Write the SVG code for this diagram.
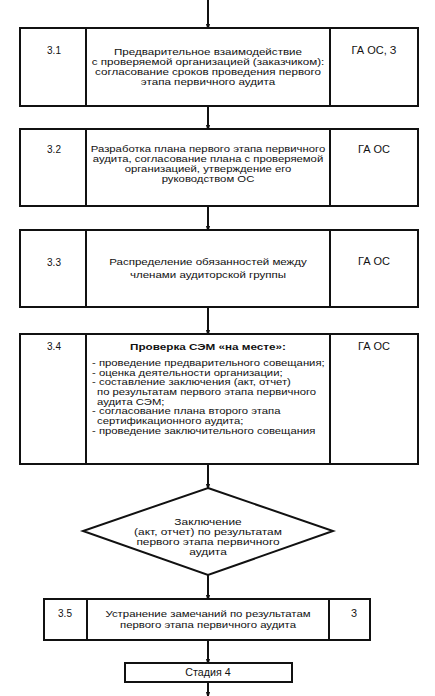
<svg xmlns="http://www.w3.org/2000/svg" width="435" height="696" viewBox="0 0 435 696">
<style>
.b{fill:#fff;stroke:#111;stroke-width:2}
.d{stroke:#111;stroke-width:2;fill:none}
text{font-family:"Liberation Sans",Arial,sans-serif;font-size:10px;fill:#111}
.s{font-size:9.6px}
.c{text-anchor:middle}
.t{font-weight:bold}
.w{stroke:#111;stroke-width:2;fill:none}
</style>
<defs>
<marker id="ah" markerWidth="7" markerHeight="11" refX="7" refY="3.5" orient="auto" markerUnits="userSpaceOnUse" viewBox="0 0 11 7">
<path d="M0,0 L11,3.5 L0,7 Z" fill="#111"/>
</marker>
</defs>
<rect width="435" height="696" fill="#fff"/>
<g id="connectors">
<line class="w" x1="208" y1="0" x2="208" y2="28" marker-end="url(#ah)"/>
<line class="w" x1="208" y1="106" x2="208" y2="129" marker-end="url(#ah)"/>
<line class="w" x1="208" y1="206" x2="208" y2="230" marker-end="url(#ah)"/>
<line class="w" x1="208" y1="307" x2="208" y2="334" marker-end="url(#ah)"/>
<line class="w" x1="208" y1="464" x2="208" y2="488" marker-end="url(#ah)"/>
<line class="w" x1="208" y1="575" x2="208" y2="599" marker-end="url(#ah)"/>
<line class="w" x1="208" y1="640" x2="208" y2="663" marker-end="url(#ah)"/>
<line class="w" x1="208" y1="682" x2="208" y2="696" marker-end="url(#ah)"/>
</g>
<g id="n31">
<rect class="b" x="20" y="28" width="398" height="78"/>
<line class="d" x1="86" y1="28" x2="86" y2="106"/>
<line class="d" x1="330" y1="28" x2="330" y2="106"/>
<text class="c" x="54" y="54">3.1</text>
<g transform="translate(374 0) scale(1.1 1)"><text class="c" x="0" y="54">ГА ОС, З</text></g>
<g transform="translate(208 0) scale(1.21 1)">
<text class="c s" x="0" y="55.5">Предварительное взаимодействие</text>
<text class="c s" x="0" y="65.4">с проверяемой организацией (заказчиком):</text>
<text class="c s" x="0" y="75.1">согласование сроков проведения первого</text>
<text class="c s" x="0" y="84.8">этапа первичного аудита</text>
</g>
</g>
<g id="n32">
<rect class="b" x="20" y="129" width="398" height="77"/>
<line class="d" x1="86" y1="129" x2="86" y2="206"/>
<line class="d" x1="330" y1="129" x2="330" y2="206"/>
<text class="c" x="54" y="153">3.2</text>
<g transform="translate(374 0) scale(1.1 1)"><text class="c" x="0" y="153">ГА ОС</text></g>
<g transform="translate(208 0) scale(1.18 1)">
<text class="c s" x="0" y="152.5">Разработка плана первого этапа первичного</text>
<text class="c s" x="0" y="162.3">аудита, согласование плана с проверяемой</text>
<text class="c s" x="0" y="172.1">организацией, утверждение его</text>
<text class="c s" x="0" y="181.9">руководством ОС</text>
</g>
</g>
<g id="n33">
<rect class="b" x="20" y="230" width="398" height="77"/>
<line class="d" x1="86" y1="230" x2="86" y2="307"/>
<line class="d" x1="330" y1="230" x2="330" y2="307"/>
<text class="c" x="54" y="265.5">3.3</text>
<g transform="translate(374 0) scale(1.1 1)"><text class="c" x="0" y="265.5">ГА ОС</text></g>
<g transform="translate(208 0) scale(1.2 1)">
<text class="c s" x="0" y="265.5">Распределение обязанностей между</text>
<text class="c s" x="0" y="278.5">членами аудиторской группы</text>
</g>
</g>
<g id="n34">
<rect class="b" x="20" y="334" width="398" height="130"/>
<line class="d" x1="86" y1="334" x2="86" y2="464"/>
<line class="d" x1="330" y1="334" x2="330" y2="464"/>
<text class="c" x="54" y="350">3.4</text>
<g transform="translate(374 0) scale(1.1 1)"><text class="c" x="0" y="350">ГА ОС</text></g>
<g transform="translate(208 0) scale(1.22 1)"><text class="c t s" x="0" y="350">Проверка СЭМ «на месте»:</text></g>
<g transform="translate(92 0) scale(1.177 1)">
<text class="s" x="0" y="366">- проведение предварительного совещания;</text>
<text class="s" x="0" y="375.7">- оценка деятельности организации;</text>
<text class="s" x="0" y="385.4">- составление заключения (акт, отчет)</text>
<text class="s" x="4.3" y="395.1">по результатам первого этапа первичного</text>
<text class="s" x="4.3" y="404.8">аудита СЭМ;</text>
<text class="s" x="0" y="414.5">- согласование плана второго этапа</text>
<text class="s" x="4.3" y="424.2">сертификационного аудита;</text>
<text class="s" x="0" y="433.9">- проведение заключительного совещания</text>
</g>
</g>
<g id="dec">
<polygon class="b" points="208,488 333,531 208,575 83,531"/>
<g transform="translate(208 0) scale(1.24 1)">
<text class="c s" x="0" y="525">Заключение</text>
<text class="c s" x="0" y="535">(акт, отчет) по результатам</text>
<text class="c s" x="0" y="545">первого этапа первичного</text>
<text class="c s" x="0" y="555">аудита</text>
</g>
</g>
<g id="n35">
<rect class="b" x="44" y="599" width="326" height="41"/>
<line class="d" x1="87" y1="599" x2="87" y2="640"/>
<line class="d" x1="329" y1="599" x2="329" y2="640"/>
<text class="c" x="65" y="617">3.5</text>
<text class="c" x="354" y="617">З</text>
<g transform="translate(208 0) scale(1.187 1)">
<text class="c s" x="0" y="617">Устранение замечаний по результатам</text>
<text class="c s" x="0" y="628">первого этапа первичного аудита</text>
</g>
</g>
<g id="s4">
<rect class="b" x="125" y="663" width="167" height="19"/>
<g transform="translate(208 0) scale(1.07 1)"><text class="c" x="0" y="676">Стадия 4</text></g>
</g>
</svg>
